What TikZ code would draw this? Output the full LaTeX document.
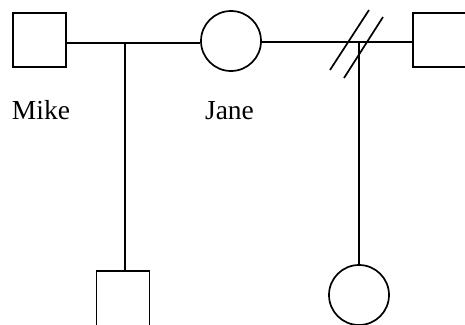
\documentclass[tikz,border=0pt]{standalone}
\usepackage{fontspec}
\setmainfont{Liberation Serif}
\usepackage{tikz}
\tikzstyle{male} = [rectangle, draw, line width=1.7pt, minimum width=53pt, minimum height=54pt, inner sep=0pt]
\tikzstyle{female} = [circle, draw, line width=1.7pt, minimum size=60pt, inner sep=0pt]
\tikzstyle{line} = [draw, line width=1.7pt]
\tikzstyle{personname} = [font=\fontsize{27.5}{33}\selectfont, inner sep=0pt, anchor=base]

\begin{document}
\begin{tikzpicture}[x=1pt, y=-1pt]
	\useasboundingbox (0,0) rectangle (465,324);
	% Place nodes
	\node [male] (mike) at (39.5,40) {};
	\node [female] (jane) at (231,41) {};
	\node [male] (ex) at (439.5,40) {};
	\node [male, minimum height=62pt] (son) at (123,302) {};
	\node [female] (daughter) at (359,295) {};
	\node [personname] (mikename) at (41,119) {Mike};
	\node [personname] (janename) at (229.5,119) {Jane};
	\coordinate (couple) at (125,43);
	\coordinate (excouple) at (359,42);

	\path [line] (mike.east |- couple) -- (jane.west |- couple);
	\path [line] (jane.east |- excouple) -- (ex.west |- excouple);
	\path [line] (couple) -- (couple |- son.north);
	\path [line] (excouple) -- (daughter);
	% divorce marks
	\path [line] (330,70) -- (369,10);
	\path [line] (344,78) -- (383,17);
\end{tikzpicture}
\end{document}
